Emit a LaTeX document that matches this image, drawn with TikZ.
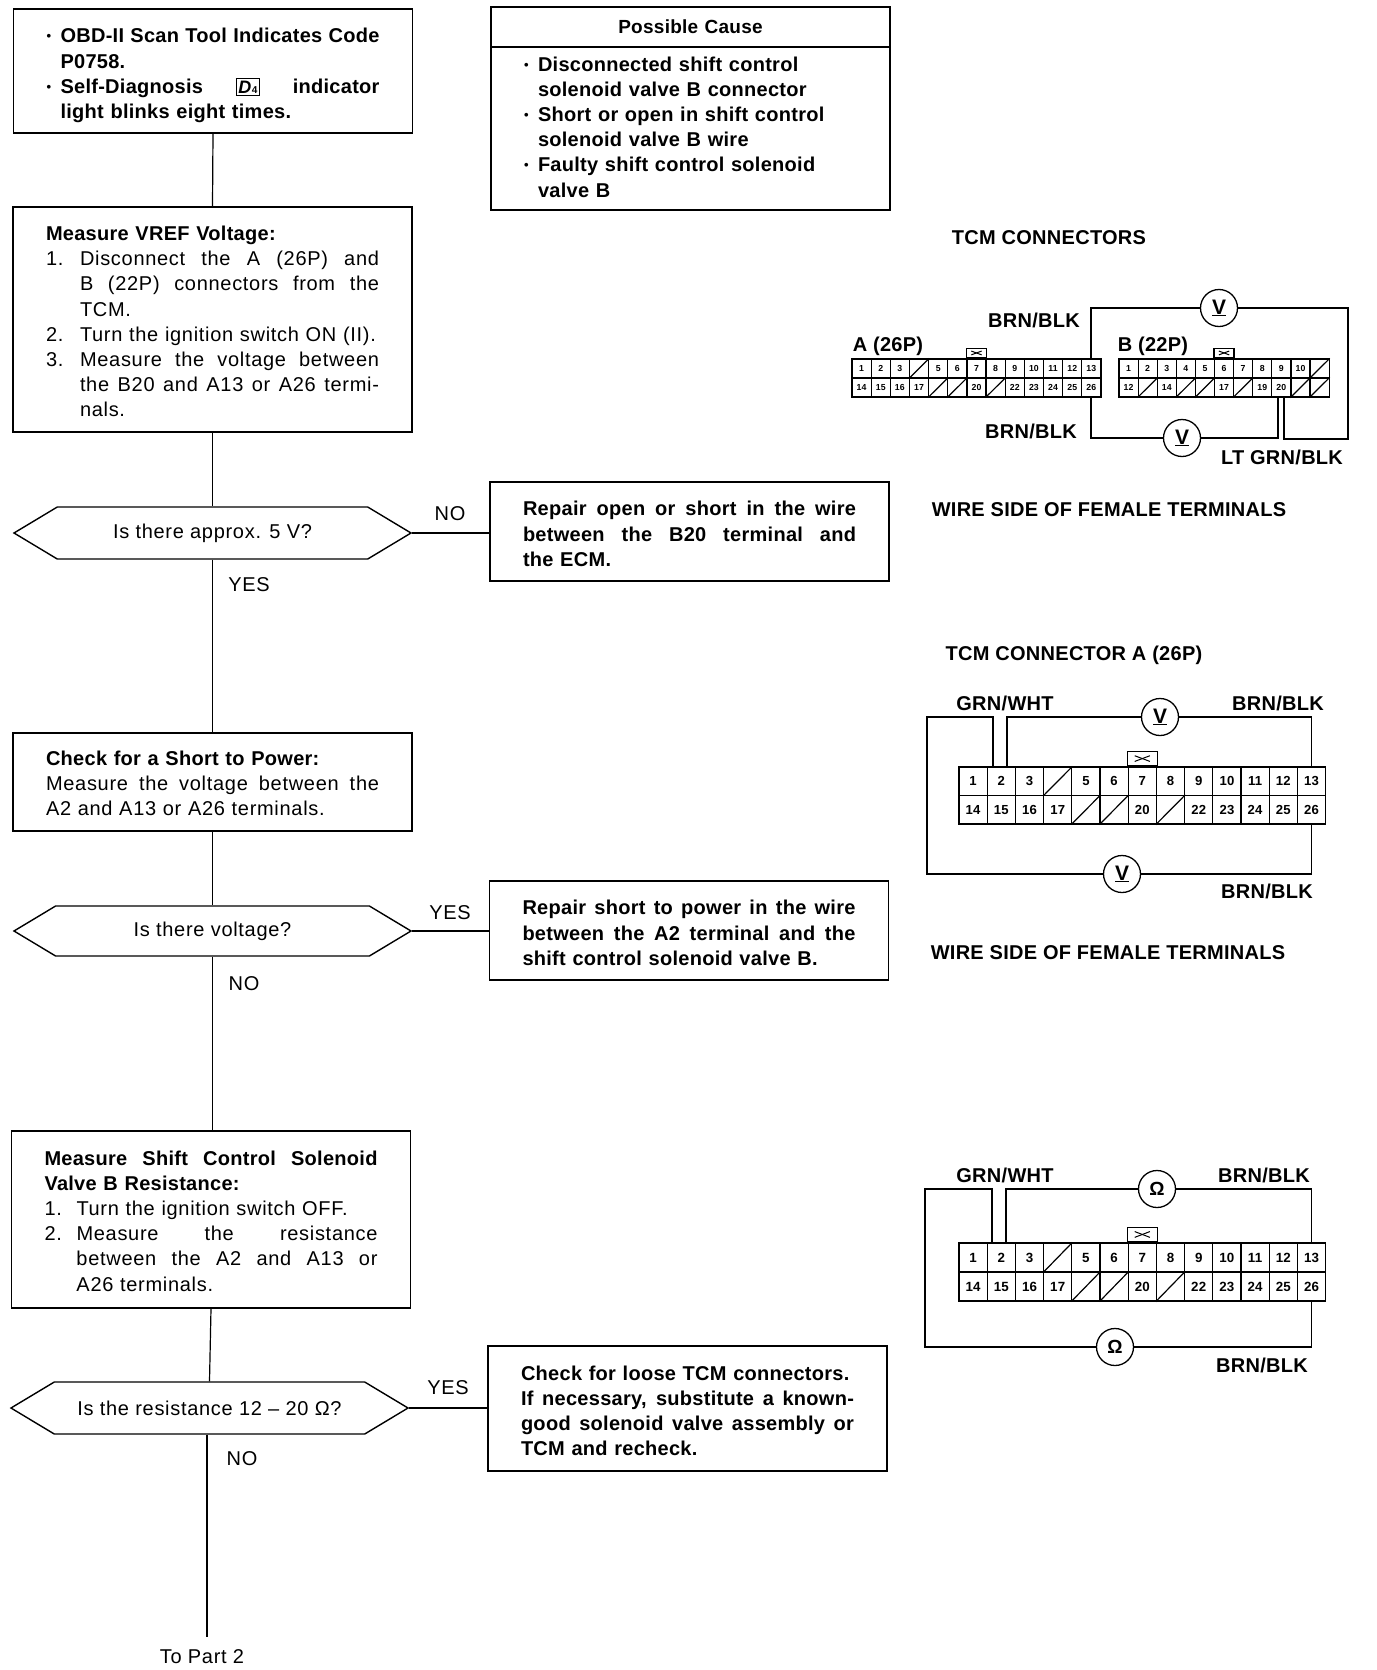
\documentclass[tikz,border=0pt]{standalone}
\usepackage{fontspec}
\setmainfont[LetterSpace=3.5,BoldFeatures={LetterSpace=1.4}]{Liberation Sans}
\usetikzlibrary{positioning,shapes.symbols}

\newcommand{\lineJ}[2][0pt]{\hbox to \hsize{\spaceskip=0pt \xspaceskip=0pt \hspace*{#1}#2}}
\newcommand{\lineL}[2][0pt]{\hbox to \hsize{\hspace*{#1}#2\hfil}}
\newcommand{\mrk}[2][34pt]{\hbox to #1{#2\hfil}}
\newcommand{\bul}{\hbox to 14pt{\fontsize{13}{13}\selectfont\raisebox{2pt}{\textbullet}\hfil}}
\newcommand{\dfour}{{\setlength{\fboxsep}{1.5pt}\setlength{\fboxrule}{1pt}\fbox{\fontsize{18}{18}\selectfont\textit{D}\fontsize{10}{10}\selectfont 4}}}
\newcommand{\textblock}[2]{\vbox{\vskip #1\relax #2}}
\def\noCell{-}

% #1 name, #2 x, #3 y, #4 cell width, #5 cell height, #6 cell with tab, #7 top row, #8 bottom row
\newcommand{\tcmconn}[8]{
  \pgfmathsetmacro\cellsize{#5*.46}
  \foreach \lab [count=\i from 0] in {#7} {
    \node[cell={#4}{#5}] (#1-t\i) at ({#2+#4*(\i+.5)},{#3+#5/2}) {\ifx\lab\noCell\else\lab\fi};
    \ifx\lab\noCell \draw[line width=1.2pt] (#1-t\i.south west) -- (#1-t\i.north east); \fi
  }
  \foreach \lab [count=\i from 0] in {#8} {
    \node[cell={#4}{#5}] (#1-b\i) at ({#2+#4*(\i+.5)},{#3+#5*1.5}) {\ifx\lab\noCell\else\lab\fi};
    \ifx\lab\noCell \draw[line width=1.2pt] (#1-b\i.south west) -- (#1-b\i.north east); \fi
  }
  \node[draw, line width=1.4pt, inner sep=0pt, minimum width=#4*1.06pt, minimum height=#5*.5pt, above=0pt of #1-t#6] (#1-tab) {};
  \draw[line width=1pt] ([xshift=-#4*.27pt,yshift=-#5*.1pt]#1-tab.center) -- ([xshift=#4*.27pt,yshift=#5*.1pt]#1-tab.center);
  \draw[line width=1pt] ([xshift=-#4*.27pt,yshift=#5*.1pt]#1-tab.center) -- ([xshift=#4*.27pt,yshift=-#5*.1pt]#1-tab.center);
}

\begin{document}
\begin{tikzpicture}[x=1pt, y=-1pt,
    box/.style={draw, line width=1.4pt, rectangle, inner ysep=0pt, inner xsep=33pt, text width=333pt,
                font=\fontsize{20}{25.2}\selectfont},
    boldbox/.style={box, font=\fontsize{20}{25.2}\selectfont\bfseries},
    decision/.style={draw, line width=1.4pt, signal, signal to=east and west, signal pointer angle=62, inner sep=0pt,
                minimum width=397pt, minimum height=52pt, font=\fontsize{20}{25}\selectfont},
    answer/.style={inner sep=0pt, font=\fontsize{20}{25}\selectfont},
    wirelabel/.style={inner sep=0pt, font=\fontsize{20}{25}\selectfont\bfseries},
    meter/.style={draw, circle, line width=1.3pt, fill=white, inner sep=0pt, minimum size=37pt, font=\fontsize{21}{21}\selectfont\bfseries},
    wire/.style={line width=1.8pt},
    link/.style={line width=1.2pt},
    cell/.style 2 args={draw, line width=1.2pt, rectangle, inner sep=0pt, minimum width=#1*1pt, minimum height=#2*1pt,
                font=\fontsize{\cellsize}{\cellsize}\selectfont\bfseries}]
  \useasboundingbox (0,0) rectangle (1376,1670);

  % flow boxes
  \node[boldbox, minimum height=124pt] (start) at (213,71) {\textblock{9pt}{
    \lineJ{\bul OBD-II Scan Tool Indicates Code}
    \lineL[14pt]{P0758.}
    \lineJ{\bul Self-Diagnosis \dfour\ indicator}
    \lineL[14pt]{light blinks eight times.}}};
  \node[boldbox, minimum height=40pt, align=center, font=\fontsize{19}{25}\selectfont\bfseries] (causehead) at (690.5,27) {\raisebox{-2pt}{Possible Cause}};
  \node[boldbox, minimum height=163pt, below=-1.4pt of causehead] (cause) {\vbox{
    \lineL{\bul Disconnected shift control}
    \lineL[14pt]{solenoid valve B connector}
    \lineL{\bul Short or open in shift control}
    \lineL[14pt]{solenoid valve B wire}
    \lineL{\bul Faulty shift control solenoid}
    \lineL[14pt]{valve B}
    \vskip 3pt}};
  \node[box, minimum height=225pt] (vref) at (212.5,319.5) {\textblock{4pt}{
    \lineL{\bfseries Measure VREF Voltage:}
    \lineJ{\mrk{1.}Disconnect the A (26P) and}
    \lineJ[34pt]{B (22P) connectors from the}
    \lineL[34pt]{TCM.}
    \lineL{\mrk{2.}Turn the ignition switch ON (II).}
    \lineJ{\mrk{3.}Measure the voltage between}
    \lineJ[34pt]{the B20 and A13 or A26 termi-}
    \lineL[34pt]{nals.}}};
  \node[decision] (approx) at (212.5,533) {\raisebox{-2pt}{Is there approx. 5 V?}};
  \node[boldbox, minimum height=99pt] (open) at (689.5,531.5) {\textblock{5pt}{
    \lineJ{Repair open or short in the wire}
    \lineJ{between the B20 terminal and}
    \lineL{the ECM.}}};
  \node[box, minimum height=98pt] (short) at (212.5,782) {\textblock{3pt}{
    \lineL{\bfseries Check for a Short to Power:}
    \lineJ{Measure the voltage between the}
    \lineL{A2 and A13 or A26 terminals.}}};
  \node[decision, minimum height=50pt] (voltage) at (212.5,931) {\raisebox{-2pt}{Is there voltage?}};
  \node[boldbox, minimum height=99pt] (repair) at (689,930.5) {\textblock{5pt}{
    \lineJ{Repair short to power in the wire}
    \lineJ{between the A2 terminal and the}
    \lineL{shift control solenoid valve B.}}};
  \node[box, minimum height=177pt] (solres) at (211,1219.5) {\textblock{3pt}{
    \lineJ{\bfseries Measure Shift Control Solenoid}
    \lineL{\bfseries Valve B Resistance:}
    \lineL{\mrk[32pt]{1.}Turn the ignition switch OFF.}
    \lineJ{\mrk[32pt]{2.}Measure the resistance}
    \lineJ[32pt]{between the A2 and A13 or}
    \lineL[32pt]{A26 terminals.}}};
  \node[decision] (resist) at (209.5,1408) {Is the resistance 12 -- 20 \char"03A9?};
  \node[boldbox, minimum height=125pt] (loose) at (687.5,1408.5) {\textblock{5pt}{
    \lineL{Check for loose TCM connectors.}
    \lineJ{If necessary, substitute a known-}
    \lineJ{good solenoid valve assembly or}
    \lineL{TCM and recheck.}}};
  \node[answer] (part2) at (202,1657) {To Part 2};
  \coordinate (part2top) at (207,1637);

  % flow lines
  \draw[link] (start.south) -- (vref.north);
  \draw[link] (vref.south) -- (approx.north);
  \draw[link] (approx.south) -- (short.north);
  \draw[link] (short.south) -- (voltage.north);
  \draw[link] (voltage.south) -- (voltage.south |- solres.north);
  \draw[link] (solres.south) -- (resist.north);
  \draw[link] (resist.south -| part2top) -- (part2top);
  \draw[link] (approx.east) -- (approx.east -| open.west);
  \draw[link] (voltage.east) -- (voltage.east -| repair.west);
  \draw[link] (resist.east) -- (resist.east -| loose.west);

  \node[answer] (no1) at (450,514) {NO};
  \node[answer] (yes1) at (249,585) {YES};
  \node[answer] (yes2) at (450,913) {YES};
  \node[answer] (no2) at (244,984) {NO};
  \node[answer] (yes3) at (448,1388) {YES};
  \node[answer] (no3) at (242,1459) {NO};

  % first connectors
  \node[wirelabel] (titleone) at (1049,238) {TCM CONNECTORS};
  \tcmconn{a}{852}{359}{19.15}{19}{6}{1,2,3,-,5,6,7,8,9,10,11,12,13}{14,15,16,17,-,-,20,-,22,23,24,25,26}
  \tcmconn{b}{1119}{359}{19.1}{19}{5}{1,2,3,4,5,6,7,8,9,10,-}{12,-,14,-,-,17,-,19,20,-,-}
  \node[wirelabel, inner sep=0pt] (namea) at (888,346) {A (26P)};
  \node[wirelabel, inner sep=0pt] (nameb) at (1153,346) {B (22P)};
  \node[meter] (v1) at (1219,308) {\underline{V}};
  \node[meter] (v2) at (1182,438) {\underline{V}};
  \coordinate (c1) at (1348,439);
  \draw[wire] (a-t12.north) |- (v1);
  \draw[wire] (v1) -| (c1) -| ([xshift=3pt]b-b8.south);
  \draw[wire] (a-b12.south) |- (v2);
  \draw[wire] (v2) -| ([xshift=-3.5pt]b-b8.south);
  \node[wirelabel] (lab1) at (1034,320) {BRN/BLK};
  \node[wirelabel] (lab2) at (1031,431) {BRN/BLK};
  \node[wirelabel] (lab3) at (1282,457) {LT GRN/BLK};
  \node[wirelabel] (sideone) at (1109,510) {WIRE SIDE OF FEMALE TERMINALS};

  % connector A, voltage
  \node[wirelabel] (titletwo) at (1074,655) {TCM CONNECTOR A (26P)};
  \tcmconn{c}{959}{767}{28.2}{28.5}{6}{1,2,3,-,5,6,7,8,9,10,11,12,13}{14,15,16,17,-,-,20,-,22,23,24,25,26}
  \node[meter] (v3) at (1160,717) {\underline{V}};
  \node[meter] (v4) at (1122,874) {\underline{V}};
  \coordinate (c2) at (927,717);
  \draw[wire] ([xshift=-8pt]c-t1.north) |- (c2) |- (v4);
  \draw[wire] (v4) -| (c-b12.south);
  \draw[wire] ([xshift=6pt]c-t1.north) |- (v3);
  \draw[wire] (v3) -| (c-t12.north);
  \node[wirelabel] (lab4) at (1005,703) {GRN/WHT};
  \node[wirelabel] (lab5) at (1278,703) {BRN/BLK};
  \node[wirelabel] (lab6) at (1267,891) {BRN/BLK};
  \node[wirelabel] (sidetwo) at (1108,953) {WIRE SIDE OF FEMALE TERMINALS};

  % connector A, resistance
  \tcmconn{d}{959}{1243}{28.2}{29}{6}{1,2,3,-,5,6,7,8,9,10,11,12,13}{14,15,16,17,-,-,20,-,22,23,24,25,26}
  \node[meter, font=\fontsize{19}{19}\selectfont\bfseries] (r1) at (1157,1189) {\char"03A9};
  \node[meter, font=\fontsize{19}{19}\selectfont\bfseries] (r2) at (1115,1347) {\char"03A9};
  \coordinate (c3) at (925,1189);
  \draw[wire] ([xshift=-9pt]d-t1.north) |- (c3) |- (r2);
  \draw[wire] (r2) -| (d-b12.south);
  \draw[wire] ([xshift=5pt]d-t1.north) |- (r1);
  \draw[wire] (r1) -| (d-t12.north);
  \node[wirelabel] (lab7) at (1005,1175) {GRN/WHT};
  \node[wirelabel] (lab8) at (1264,1175) {BRN/BLK};
  \node[wirelabel] (lab9) at (1262,1365) {BRN/BLK};
\end{tikzpicture}
\end{document}
